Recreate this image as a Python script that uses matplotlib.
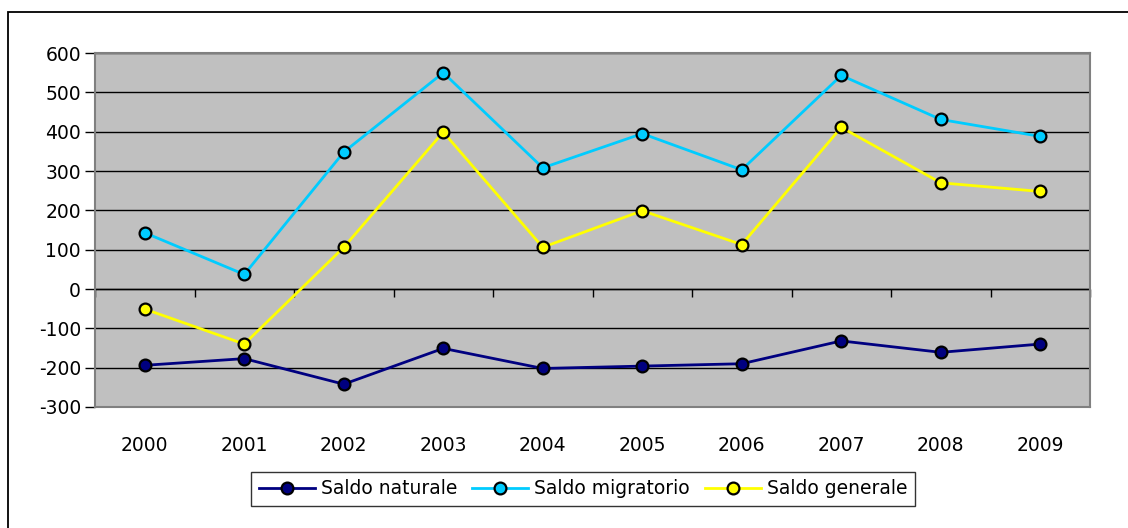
import matplotlib.pyplot as plt
from matplotlib.patches import Rectangle

# Dati
anni = ['2000', '2001', '2002', '2003', '2004', '2005', '2006', '2007', '2008', '2009']
saldo_naturale = [-194, -177, -242, -151, -202, -196, -190, -132, -161, -140]
saldo_migratorio = [143, 37, 348, 550, 308, 395, 303, 543, 431, 388]
saldo_generale = [-51, -140, 106, 399, 106, 199, 113, 411, 270, 248]

W, H = 1128, 528
plt.rcParams['font.family'] = ['DejaVu Sans']
plt.rcParams['axes.unicode_minus'] = False
fig = plt.figure(figsize=(W / 100, H / 100), dpi=100)

# bordo esterno (solo sinistra e alto visibili)
fig.patches.append(Rectangle((8 / W, -0.1), 1.2, (H - 12) / H + 0.1,
                             transform=fig.transFigure, fill=False,
                             edgecolor='black', linewidth=1.3))

ax = fig.add_axes([95 / W, 1 - 407 / H, (1090 - 95) / W, (407 - 53) / H])
ax.set_facecolor('#C0C0C0')

x = list(range(len(anni)))
series = [
    (saldo_naturale, '#000080', 'Saldo naturale'),
    (saldo_migratorio, '#00CCFF', 'Saldo migratorio'),
    (saldo_generale, '#FFFF00', 'Saldo generale'),
]
for vals, col, lab in series:
    ax.plot(x, vals, color=col, linewidth=2, marker='o', markersize=8.5,
            markerfacecolor=col, markeredgecolor='black', markeredgewidth=1.6,
            label=lab, zorder=3)

ax.set_xlim(-0.5, len(anni) - 0.5)
ax.set_ylim(-300, 600)
ax.set_yticks(range(-300, 601, 100))
ax.yaxis.grid(True, color='black', linewidth=1)
ax.set_axisbelow(True)
ax.tick_params(axis='y', direction='out', length=7, width=1, labelsize=13.5, pad=3)

ax.set_xticks(x)
ax.set_xticklabels(anni)
ax.tick_params(axis='x', length=0, labelsize=13.5, pad=21)

for s in ax.spines.values():
    s.set_color('#808080')
    s.set_linewidth(1.5)

# asse x sullo zero con tacche tra le categorie
sec = ax.secondary_xaxis(1 / 3)
sec.set_xticks([i - 0.5 for i in range(len(anni) + 1)])
sec.set_xticklabels([])
sec.tick_params(direction='out', length=6, width=1, color='black')
sec.spines['bottom'].set_color('black')
sec.spines['bottom'].set_linewidth(1)
sec.spines['bottom'].set_capstyle('butt')

leg = fig.legend(loc='center', bbox_to_anchor=(583 / W, 1 - 489 / H), ncol=3,
                 fontsize=13.5, frameon=True, fancybox=False, edgecolor='black',
                 handlelength=3, handletextpad=0.3, columnspacing=0.8,
                 borderpad=0.4, borderaxespad=0)
leg.get_frame().set_linewidth(1)

fig.savefig('out.png', dpi=100)
